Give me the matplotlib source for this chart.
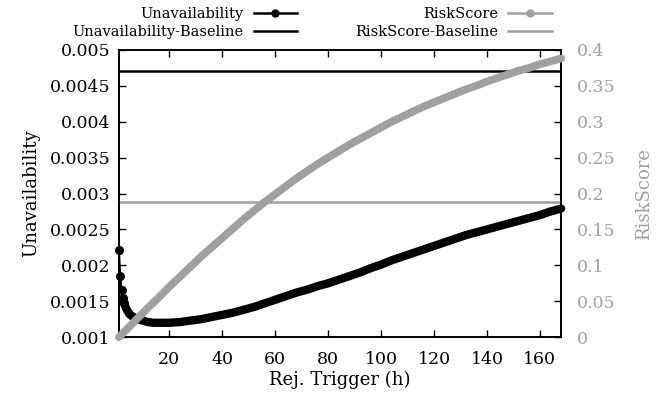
import matplotlib
matplotlib.use("Agg")
import matplotlib.pyplot as plt
from matplotlib.lines import Line2D

plt.rcParams["font.family"] = ["DejaVu Serif"]

GRAY = "#a0a0a0"

# unavailability vs. rejuvenation trigger (hours)
hours_u = [1, 1.5, 2, 2.5, 3, 3.5, 4, 5, 6, 7, 8, 10, 12, 14, 16, 18, 20,
           24, 28, 32, 36, 40, 44, 48, 52, 56, 60, 64, 68, 72, 76, 80, 84,
           88, 92, 96, 100, 104, 108, 112, 116, 120, 124, 128, 132, 136,
           140, 144, 148, 152, 156, 160, 164, 168]
unavail = [0.00221, 0.00185, 0.00166, 0.00155, 0.00147, 0.00142, 0.00138,
           0.00132, 0.00129, 0.00127, 0.00125, 0.00123, 0.00121, 0.00120,
           0.00120, 0.00120, 0.00120, 0.00121, 0.00123, 0.00125, 0.00128,
           0.00131, 0.00134, 0.00138, 0.00142, 0.00147, 0.00152, 0.00157,
           0.00162, 0.00166, 0.00171, 0.00175, 0.00180, 0.00185, 0.00190,
           0.00196, 0.00201, 0.00207, 0.00212, 0.00217, 0.00222, 0.00227,
           0.00232, 0.00237, 0.00242, 0.00246, 0.00250, 0.00254, 0.00258,
           0.00262, 0.00266, 0.00270, 0.00275, 0.00279]
unavail_baseline = 0.00471

# risk score vs. rejuvenation trigger (hours)
hours_r = [1, 4, 8, 12, 16, 20, 24, 28, 32, 36, 40, 44, 48, 52, 56, 60, 64,
           68, 72, 76, 80, 84, 88, 92, 96, 100, 104, 108, 112, 116, 120, 124,
           128, 132, 136, 140, 144, 148, 152, 156, 160, 164, 168]
risk = [0.000, 0.011, 0.026, 0.041, 0.055, 0.070, 0.084, 0.098, 0.112, 0.125,
        0.138, 0.151, 0.164, 0.176, 0.188, 0.199, 0.210, 0.221, 0.231, 0.241,
        0.250, 0.259, 0.268, 0.276, 0.284, 0.292, 0.300, 0.307, 0.314, 0.321,
        0.327, 0.333, 0.339, 0.345, 0.350, 0.356, 0.361, 0.366, 0.371, 0.375,
        0.380, 0.384, 0.388]
risk_baseline = 0.188

x_ticks = [20, 40, 60, 80, 100, 120, 140, 160]
u_ticks = [0.001, 0.0015, 0.002, 0.0025, 0.003, 0.0035, 0.004, 0.0045, 0.005]
u_labels = ["0.001", "0.0015", "0.002", "0.0025", "0.003", "0.0035", "0.004",
            "0.0045", "0.005"]
r_ticks = [0, 0.05, 0.1, 0.15, 0.2, 0.25, 0.3, 0.35, 0.4]
r_labels = ["0", "0.05", "0.1", "0.15", "0.2", "0.25", "0.3", "0.35", "0.4"]

fig = plt.figure(figsize=(6.68, 3.99), dpi=100)
ax = fig.add_axes([0.178, 0.155, 0.662, 0.72])
ax2 = ax.twinx()

# unavailability: separate dots at the steep start, then a solid thick band
# where the points crowd together
ax.plot(hours_u[:5], unavail[:5], "-o", color="black", lw=1.5, ms=5.5,
        clip_on=False, zorder=3)
ax.plot(hours_u[4:], unavail[4:], "-", color="black", lw=6,
        solid_capstyle="round", clip_on=False, zorder=3)
ax.axhline(unavail_baseline, color="black", lw=1.8, zorder=2)

ax2.plot(hours_r, risk, "-", color=GRAY, lw=5.6, solid_capstyle="round",
         clip_on=False, zorder=3)
ax2.axhline(risk_baseline, color=GRAY, lw=1.8, zorder=2)

ax.set_xlim(1, 168)
ax.set_ylim(0.001, 0.005)
ax2.set_ylim(0, 0.4)

ax.set_xticks(x_ticks)
ax.set_yticks(u_ticks)
ax.set_yticklabels(u_labels)
ax2.set_yticks(r_ticks)
ax2.set_yticklabels(r_labels)

ax.tick_params(axis="x", direction="in", top=True, length=5, width=1,
               labelsize=12.5, pad=10)
ax.tick_params(axis="y", direction="in", length=5, width=1, labelsize=12.5, pad=6)
ax2.tick_params(axis="y", direction="in", length=5, width=1, labelsize=12.5,
                pad=11, labelcolor=GRAY)

for a in (ax, ax2):
    for sp in a.spines.values():
        sp.set_linewidth(1.2)

ax.set_xlabel("Rej. Trigger (h)", fontsize=13, labelpad=2)
ax.set_ylabel("Unavailability", fontsize=13, labelpad=7)
ax2.set_ylabel("RiskScore", fontsize=13, color=GRAY, labelpad=14)

u_handles = [Line2D([], [], color="black", lw=1.8, marker="o", ms=5),
             Line2D([], [], color="black", lw=1.8)]
r_handles = [Line2D([], [], color=GRAY, lw=1.8, marker="o", ms=5),
             Line2D([], [], color=GRAY, lw=1.8)]
legend_kw = dict(loc="upper right", frameon=False, markerfirst=False,
                 fontsize=10.5, handlelength=3.0, handletextpad=0.7,
                 labelspacing=0.3, numpoints=1, borderpad=0, borderaxespad=0)
fig.legend(u_handles, ["Unavailability", "Unavailability-Baseline"],
           bbox_to_anchor=(0.445, 0.983), **legend_kw)
fig.legend(r_handles, ["RiskScore", "RiskScore-Baseline"],
           bbox_to_anchor=(0.826, 0.983), **legend_kw)

fig.savefig("out.png", dpi=100)
